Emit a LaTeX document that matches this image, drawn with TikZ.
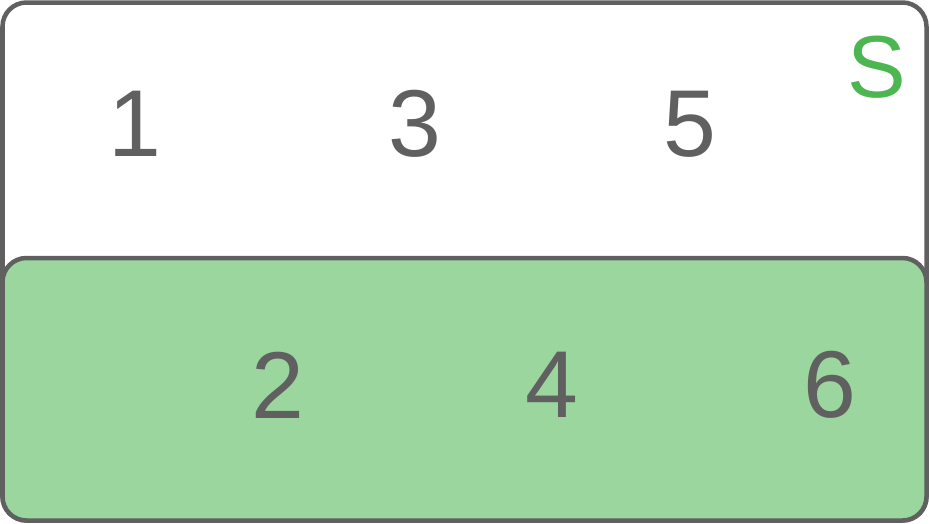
\documentclass[tikz,border=0pt]{standalone}
\usepackage{fontspec}
\setmainfont{Liberation Sans}
\definecolor{edgegray}{HTML}{606060}
\definecolor{setfill}{HTML}{9AD69E}
\definecolor{setgreen}{HTML}{4CB650}
\tikzset{
  frame/.style={draw=edgegray, line width=4.5pt, rounded corners=24pt},
  digit/.style={inner sep=0pt, text=edgegray, font=\fontsize{95}{95}\selectfont},
}
\begin{document}
\begin{tikzpicture}[x=1pt, y=-1pt]
  \useasboundingbox (0,0) rectangle (929,523);
  % outer box and the set S
  \draw[frame, fill=white] (2.5,2.5) rectangle (926.5,520.5);
  \draw[frame, fill=setfill] (2.5,258) rectangle (926.5,520.5);
  \node[inner sep=0pt, text=setgreen, font=\fontsize{88}{88}\selectfont] (s) at (877,67) {S};
  % elements
  \node[digit] (n1) at (135,124) {1};
  \node[digit] (n3) at (415,124) {3};
  \node[digit] (n5) at (690,124) {5};
  \node[digit] (n2) at (278,385) {2};
  \node[digit] (n4) at (552,385) {4};
  \node[digit] (n6) at (830,385) {6};

\end{tikzpicture}
\end{document}
